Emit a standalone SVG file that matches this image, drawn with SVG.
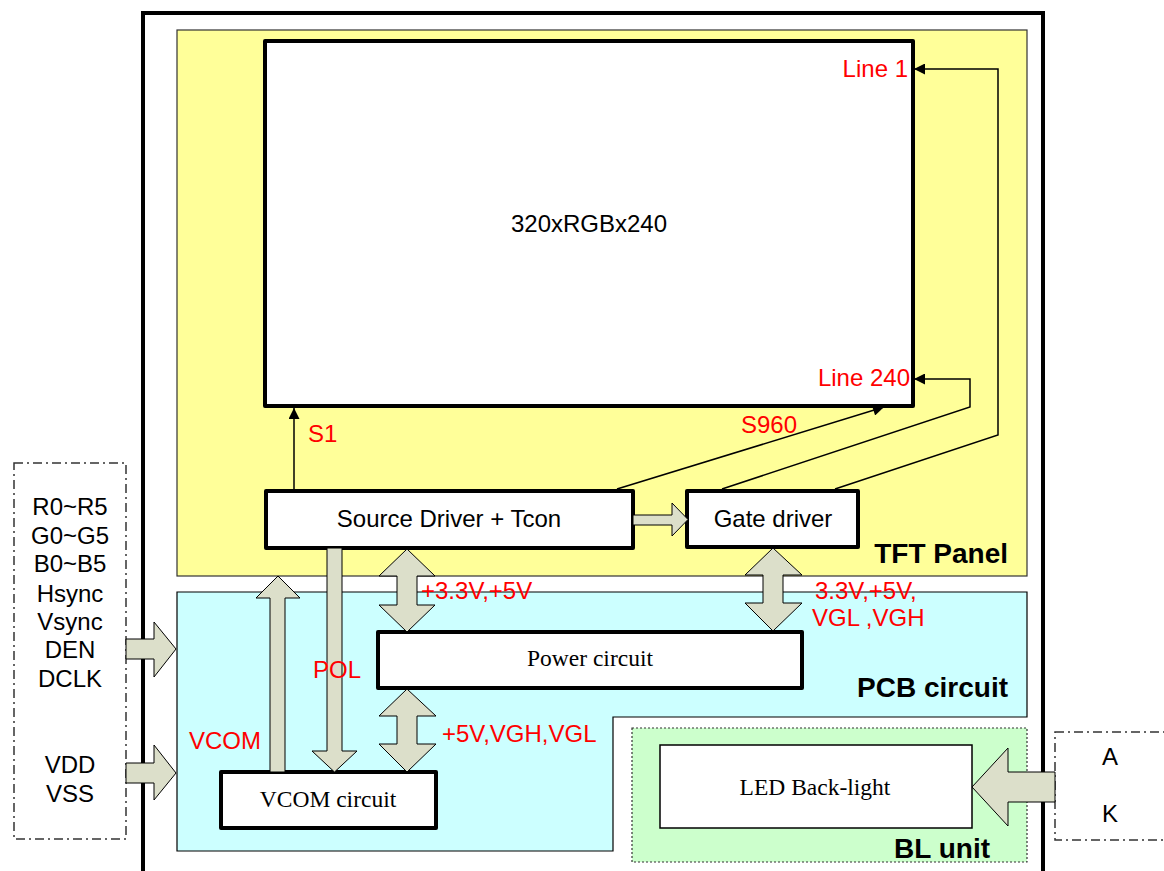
<svg xmlns="http://www.w3.org/2000/svg" width="1164" height="871" viewBox="0 0 1164 871">
<style>
.box{fill:#fff;stroke:#000;stroke-width:4;stroke-linejoin:round}
.thin{fill:#fff;stroke:#000;stroke-width:1.5}
.sans{font-family:"Liberation Sans",Arial,sans-serif;font-size:24px;fill:#000}
.red{font-family:"Liberation Sans",Arial,sans-serif;font-size:24px;fill:#ff0000}
.serif{font-family:"Liberation Serif","Times New Roman",serif;font-size:23.5px;fill:#000}
.bold{font-family:"Liberation Sans",Arial,sans-serif;font-size:28px;font-weight:bold;fill:#000}
.blk{fill:#dcdfca;stroke:#000;stroke-width:1;stroke-linejoin:miter}
.wire{fill:none;stroke:#000;stroke-width:1.5}
.dash{fill:#fff;stroke:#333;stroke-width:1.5;stroke-dasharray:9,4,2,4}
</style>
<defs>
<marker id="ah" viewBox="0 0 10 10" refX="10" refY="5" markerWidth="12" markerHeight="11" markerUnits="userSpaceOnUse" orient="auto">
<path d="M0,0 L10,5 L0,10 z" fill="#000"/>
</marker>
</defs>
<rect width="1164" height="871" fill="#fff"/>
<g id="frame">
<rect x="143" y="13" width="900" height="880" fill="none" stroke="#000" stroke-width="4"/>
</g>
<g id="tft-panel">
<rect x="177" y="30" width="850" height="546" fill="#ffff99" stroke="#333" stroke-width="1.2"/>
<text class="bold" x="1008" y="563" text-anchor="end">TFT Panel</text>
</g>
<g id="pcb-circuit">
<path d="M177,592 H1027 V717 H613 V851 H177 Z" fill="#ccffff" stroke="#000" stroke-width="1.2"/>
<text class="bold" x="1008" y="697" text-anchor="end">PCB circuit</text>
</g>
<g id="bl-unit">
<rect x="632" y="728" width="395" height="134" fill="#ccffcc" stroke="#333" stroke-width="1.2" stroke-dasharray="2,2"/>
<text class="bold" x="990" y="858" text-anchor="end">BL unit</text>
</g>
<g id="display">
<rect class="box" x="265" y="41" width="648" height="365"/>
<text class="sans" x="589" y="232" text-anchor="middle">320xRGBx240</text>
<text class="red" x="908" y="77" text-anchor="end">Line 1</text>
<text class="red" x="910" y="386" text-anchor="end">Line 240</text>
</g>
<g id="source-driver">
<rect class="box" x="266" y="491" width="367" height="57"/>
<text class="sans" x="449" y="527" text-anchor="middle">Source Driver + Tcon</text>
</g>
<g id="gate-driver">
<rect class="box" x="687" y="491" width="171" height="56"/>
<text class="sans" x="773" y="527" text-anchor="middle">Gate driver</text>
</g>
<g id="power-circuit">
<rect class="box" x="378" y="632" width="424" height="56"/>
<text class="serif" x="590" y="666" text-anchor="middle">Power circuit</text>
</g>
<g id="vcom-circuit">
<rect class="box" x="221" y="772" width="215" height="56"/>
<text class="serif" x="328" y="807" text-anchor="middle">VCOM circuit</text>
</g>
<g id="led-backlight">
<rect class="thin" x="660" y="745" width="312" height="83"/>
<text class="serif" x="815" y="795" text-anchor="middle">LED Back-light</text>
</g>
<g id="input-signals">
<rect class="dash" x="14" y="463" width="112" height="376"/>
<text class="sans" x="70" y="515" text-anchor="middle">R0~R5</text>
<text class="sans" x="70" y="544" text-anchor="middle">G0~G5</text>
<text class="sans" x="70" y="572" text-anchor="middle">B0~B5</text>
<text class="sans" x="70" y="602" text-anchor="middle">Hsync</text>
<text class="sans" x="70" y="630" text-anchor="middle">Vsync</text>
<text class="sans" x="70" y="658" text-anchor="middle">DEN</text>
<text class="sans" x="70" y="687" text-anchor="middle">DCLK</text>
<text class="sans" x="70" y="773" text-anchor="middle">VDD</text>
<text class="sans" x="70" y="802" text-anchor="middle">VSS</text>
</g>
<g id="backlight-input">
<rect class="dash" x="1055" y="732" width="130" height="108"/>
<text class="sans" x="1110" y="765" text-anchor="middle">A</text>
<text class="sans" x="1110" y="822" text-anchor="middle">K</text>
</g>
<g id="connectors">
<polyline class="wire" points="294,490 294,408" marker-end="url(#ah)"/>
<polyline class="wire" points="617,489 884,407" marker-end="url(#ah)"/>
<polyline class="wire" points="722,489 970,407 970,379 914,379" marker-end="url(#ah)"/>
<polyline class="wire" points="835,489 998,435 998,69 914,69" marker-end="url(#ah)"/>
<polygon class="blk" points="633,515 672,515 672,503 688,519.5 672,536 672,525 633,525"/>
<polygon class="blk" points="407,549 435,576 417,576 417,605 435,605 407,632 379,605 397,605 397,576 379,576"/>
<polygon class="blk" points="773,548 802,575 783,575 783,603 802,603 773,631 745,603 763,603 763,575 745,575"/>
<polygon class="blk" points="407,689 436,716 417,716 417,744 436,744 407,772 379,744 397,744 397,716 379,716"/>
<polygon class="blk" points="278,576 300,598 285,598 285,772 270,772 270,598 256,598"/>
<polygon class="blk" points="327,548 342,548 342,751 357,751 334.5,772 312,751 327,751"/>
<polygon class="blk" points="126,639 154,639 154,622 176,649 154,677 154,659 126,659"/>
<polygon class="blk" points="126,763 154,763 154,745 176,773 154,800 154,783 126,783"/>
<polygon class="blk" points="1055,772 1008,772 1008,748 972,787 1008,826 1008,802 1055,802"/>
<text class="red" x="308" y="442">S1</text>
<text class="red" x="741" y="433">S960</text>
<text class="red" x="421" y="599">+3.3V,+5V</text>
<text class="red" x="815" y="599">3.3V,+5V,</text>
<text class="red" x="812" y="626">VGL ,VGH</text>
<text class="red" x="313" y="678">POL</text>
<text class="red" x="189" y="749">VCOM</text>
<text class="red" x="442" y="742">+5V,VGH,VGL</text>
</g>
</svg>
